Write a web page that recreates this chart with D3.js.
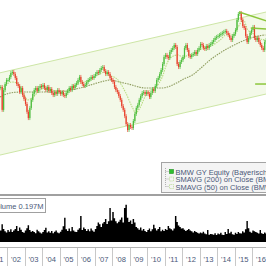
<!DOCTYPE html>
<html>
<head>
<meta charset="utf-8">
<script src="https://cdn.jsdelivr.net/npm/d3@7"></script>
<style>
  html, body { margin: 0; padding: 0; background: #fff; overflow: hidden; }
  svg { display: block; font-family: "Liberation Sans", Arial, sans-serif; }
</style>
</head>
<body>
<div id="chart"></div>
<script>
// monthly closes (EUR), Aug 2001 .. Oct 2016
const closes = [
  35.2, 23.9, 33.4, 37.0, 39.6,
  39.6, 41.7, 44.6, 45.3, 43.8, 41.0, 37.0, 35.8, 32.3, 34.6, 30.7, 28.7,
  26.4, 23.1, 20.8, 24.7, 28.3, 31.3, 33.4, 34.6, 32.9, 34.6, 35.8, 35.2,
  36.4, 34.6, 33.4, 35.2, 32.9, 34.0, 31.8, 30.7, 32.3, 31.3, 33.4, 32.3,
  31.3, 32.3, 30.7, 30.2, 31.8, 32.9, 34.6, 33.4, 35.8, 34.6, 36.4, 37.6,
  39.6, 41.7, 38.3, 37.0, 35.8, 36.4, 38.3, 39.6, 40.3, 41.7, 41.0, 42.4,
  43.8, 45.3, 44.6, 46.9, 48.5, 49.3, 46.1, 43.8, 45.3, 43.8, 41.0, 39.6,
  38.3, 35.2, 33.4, 32.3, 30.2, 28.3, 25.5, 23.9, 21.5, 18.8, 17.0, 18.5,
  17.9, 17.6, 19.8, 22.3, 24.7, 26.0, 28.3, 30.2, 31.8, 32.3, 31.3, 32.3,
  31.3, 29.7, 31.8, 34.0, 32.9, 35.8, 39.6, 41.0, 43.8, 46.9, 51.9, 58.5,
  60.5, 58.5, 57.5, 63.6, 65.8, 68.0, 71.6, 69.2, 51.9, 49.3, 53.7, 55.5,
  58.5, 68.0, 71.6, 65.8, 59.5, 58.5, 60.5, 61.5, 63.6, 61.5, 65.8, 68.0,
  72.8, 71.6, 68.0, 66.9, 70.4, 68.0, 71.6, 72.8, 75.3, 77.9, 80.6, 82.0,
  83.4, 84.8, 86.3, 87.8, 89.3, 90.8, 87.8, 84.8, 80.6, 77.9, 83.4, 86.3,
  92.3, 109.3, 120.9, 123.0, 109.3, 98.7, 95.5, 83.4, 75.3, 80.6, 87.8, 92.3,
  97.1, 80.6, 77.9, 80.6, 75.3, 71.6, 68.0, 65.8, 75.3, 77.9
]

// monthly volume (millions of shares)
const volumes = [
  3.0, 4.6, 3.4, 2.8, 2.5,
  3.1, 2.7, 3.3, 2.6, 3.0, 3.4, 4.2, 2.9, 3.8, 3.2, 2.6, 2.4,
  3.0, 3.6, 4.4, 3.1, 2.7, 2.9, 2.6, 2.3, 3.2, 2.8, 2.5, 2.2,
  2.6, 3.1, 3.7, 2.5, 2.8, 2.4, 2.9, 2.3, 2.7, 3.0, 2.5, 2.3,
  2.7, 3.2, 4.1, 6.3, 3.3, 2.9, 3.5, 2.8, 3.9, 3.0, 2.7, 2.6,
  3.2, 3.6, 6.8, 3.1, 3.8, 3.4, 2.9, 3.3, 2.8, 3.5, 3.0, 2.7,
  3.4, 4.2, 5.1, 4.6, 3.9, 4.8, 5.2, 6.0, 4.7, 5.4, 8.9, 5.6,
  7.8, 6.2, 5.4, 4.9, 5.3, 5.8, 6.4, 5.1, 8.9, 9.7, 6.3, 5.2,
  5.6, 4.7, 6.0, 5.1, 3.9, 3.6, 3.2, 3.8, 3.0, 3.4, 2.9, 2.6,
  3.1, 3.5, 2.8, 3.3, 4.5, 3.6, 3.0, 3.4, 3.9, 2.8, 3.2, 2.9,
  3.4, 3.1, 4.2, 3.6, 3.3, 3.0, 3.5, 6.8, 5.2, 4.3, 3.9, 3.5,
  3.6, 3.2, 2.9, 3.1, 3.4, 3.0, 2.8, 2.5, 2.9, 2.6, 2.4, 2.2,
  2.5, 2.3, 2.7, 2.2, 2.0, 3.1, 1.9, 2.1, 2.0, 1.9, 2.3, 1.8,
  2.2, 2.0, 2.4, 1.9, 1.8, 2.6, 2.1, 3.4, 2.3, 2.7, 2.0, 1.9,
  2.4, 2.1, 2.6, 2.3, 2.2, 2.8, 2.5, 3.3, 5.5, 3.6, 2.7, 2.4,
  3.0, 2.8, 2.6, 2.4, 2.2, 3.1, 2.3, 2.1, 2.5, 2.2
]

const yearLabels = ["'01", "'02", "'03", "'04", "'05", "'06", "'07", "'08",
  "'09", "'10", "'11", "'12", "'13", "'14", "'15", "'16"]

const sma200 = [
  ["2001-08", 29.7], ["2002-03", 31.8], ["2002-10", 32.3], ["2003-07", 32.3],
  ["2004-08", 32.3], ["2006-03", 34.6], ["2006-10", 36.4], ["2007-05", 38.3],
  ["2007-12", 39.6], ["2008-06", 38.3], ["2008-12", 37.0], ["2009-12", 34.6],
  ["2010-11", 34.6], ["2011-05", 35.8], ["2011-09", 37.6], ["2012-02", 40.3],
  ["2012-08", 43.1], ["2013-01", 47.7], ["2013-08", 55.5], ["2014-03", 62.6],
  ["2014-10", 69.2], ["2015-05", 75.3], ["2015-12", 80.6], ["2016-05", 83.4],
  ["2016-10", 84.8]
]

const sma50 = [
  ["2001-08", 33.4], ["2001-12", 36.4], ["2002-04", 38.3], ["2002-08", 37.6],
  ["2002-12", 31.8], ["2003-03", 28.3], ["2003-07", 29.7], ["2003-10", 32.3],
  ["2004-03", 34.6], ["2004-10", 32.9], ["2005-03", 31.8], ["2005-08", 34.6],
  ["2006-03", 37.6], ["2006-10", 39.6], ["2007-03", 43.1], ["2007-08", 45.3],
  ["2007-11", 43.1], ["2008-05", 39.6], ["2008-10", 32.3], ["2009-03", 24.7],
  ["2009-05", 22.7], ["2009-08", 24.7], ["2009-12", 30.7], ["2010-03", 33.4],
  ["2010-07", 35.2], ["2010-11", 41.0], ["2011-03", 53.7], ["2011-07", 59.5],
  ["2011-10", 60.5], ["2012-02", 57.5], ["2012-05", 60.5], ["2012-10", 60.5],
  ["2013-01", 65.8], ["2013-06", 69.2], ["2013-10", 71.6], ["2014-03", 77.9],
  ["2014-07", 84.8], ["2014-12", 84.8], ["2015-03", 95.5], ["2015-07", 109.3],
  ["2015-10", 92.3], ["2016-01", 87.8], ["2016-05", 80.6], ["2016-10", 77.9]
]

// trend channel and drawn trend lines
const channelTop = [["2001-01", 43.0], ["2017-01", 126.8]]
const channelBottom = [["2001-01", 10.7], ["2017-01", 31.7]]
const trendLines = [
  [["2015-04", 125.1], ["2016-11", 107.5]],
  [["2015-12", 95.5], ["2016-11", 93.9]],
  [["2016-03", 37.0], ["2016-11", 37.0]]
]

const legendItems = [
  "BMW GY Equity (Bayerische Motoren Werke AG)",
  "SMAVG (200)  on Close (BMW GY)",
  "SMAVG (50)  on Close (BMW GY)"
]
const volumeLabel = "Volume 0.197M"

const W = 266, H = 266
const textColor = '#4a5878'
const parseMonth = d3.timeParse('%Y-%m')

const months = d3.timeMonth.range(new Date(2001, 7, 1), new Date(2016, 10, 1))

const x = d3.scaleTime()
  .domain([new Date(2001, 0, 1), new Date(2017, 0, 1)])
  .range([-10.2, 269.8])
const y = d3.scaleLog().domain([5.86, 153.2]).range([193, 0])
const yVol = d3.scaleLinear().domain([0, 12]).range([242, 196])

const svg = d3.select('#chart').append('svg')
  .attr('width', W).attr('height', H)

svg.append('rect').attr('width', W).attr('height', H).attr('fill', '#fff')

svg.append('clipPath').attr('id', 'priceClip')
  .append('rect').attr('x', 0).attr('y', 0).attr('width', W).attr('height', 194)

const price = svg.append('g').attr('clip-path', 'url(#priceClip)')

// channel
const chArea = d3.area()
  .x(d => x(parseMonth(d[0])))
  .y0((d, i) => y(channelBottom[i][1]))
  .y1(d => y(d[1]))
price.append('path').datum(channelTop)
  .attr('d', chArea).attr('fill', '#f3f9e8')
const straight = d3.line().x(d => x(parseMonth(d[0]))).y(d => y(d[1]))
for (let edge of [channelTop, channelBottom]) {
  price.append('path').datum(edge)
    .attr('d', straight).attr('fill', 'none')
    .attr('stroke', '#cde6a6').attr('stroke-width', 1)
}

// moving averages
const smooth = d3.line()
  .x(d => x(parseMonth(d[0])))
  .y(d => y(d[1]))
  .curve(d3.curveMonotoneX)
price.append('path').datum(sma200)
  .attr('d', smooth).attr('fill', 'none')
  .attr('stroke', '#8e9c5e').attr('stroke-width', 1.1)
  .attr('stroke-dasharray', '1.5,1')
price.append('path').datum(sma50)
  .attr('d', smooth).attr('fill', 'none')
  .attr('stroke', '#b9dc82').attr('stroke-width', 1.1)
  .attr('stroke-dasharray', '1.5,1')

// candles, open = previous close
const candles = months.map((m, i) => ({
  date: m,
  open: i === 0 ? closes[0] : closes[i - 1],
  close: closes[i]
}))
const monthW = x(new Date(2001, 8, 1)) - x(new Date(2001, 7, 1))
const cx = d => x(d.date) + monthW / 2
const gc = price.append('g')
gc.selectAll('line.wick')
  .data(candles)
  .enter()
  .append('line')
  .classed('wick', true)
  .attr('x1', cx).attr('x2', cx)
  .attr('y1', d => Math.min(y(d.open), y(d.close)) - 2)
  .attr('y2', d => Math.max(y(d.open), y(d.close)) + 2)
  .attr('stroke', d => d.close >= d.open ? '#4cbd3c' : '#e8402c')
  .attr('stroke-width', 0.7)
gc.selectAll('rect.body')
  .data(candles)
  .enter()
  .append('rect')
  .classed('body', true)
  .attr('x', d => cx(d) - 0.6)
  .attr('width', 1.2)
  .attr('y', d => Math.min(y(d.open), y(d.close)))
  .attr('height', d => Math.max(1, Math.abs(y(d.open) - y(d.close))))
  .attr('fill', d => d.close >= d.open ? '#4cbd3c' : '#e8402c')

// trend lines
for (let tl of trendLines) {
  price.append('path').datum(tl)
    .attr('d', straight).attr('fill', 'none')
    .attr('stroke', '#8cc63c').attr('stroke-width', 1.5)
}

// legend
const lg = svg.append('g')
lg.append('rect')
  .attr('x', 161.5).attr('y', 162.5).attr('width', 120).attr('height', 30)
  .attr('fill', '#f4f4f4').attr('stroke', '#a4a4a4')
lg.append('path')
  .attr('d', 'M165.5,168V186.5M165.5,171.5H169M165.5,179H169M165.5,186.5H169')
  .attr('fill', 'none').attr('stroke', '#b0b0b0').attr('stroke-dasharray', '1,1')
legendItems.forEach((t, i) => {
  const ly = 169 + i * 7.5
  if (i === 0) {
    lg.append('rect').attr('x', 169.5).attr('y', ly + 0.5).attr('width', 4).attr('height', 4)
      .attr('fill', '#2fc02f').attr('stroke', '#1f8f1f').attr('stroke-width', 0.6)
  } else {
    lg.append('rect').attr('x', 169.5).attr('y', ly + 0.5).attr('width', 4).attr('height', 4)
      .attr('fill', 'none').attr('stroke', '#b4d888').attr('stroke-width', 0.8)
      .attr('stroke-dasharray', '1,0.8')
  }
  lg.append('text')
    .attr('x', 175.5).attr('y', ly + 5.5)
    .attr('font-size', 7.5).attr('fill', textColor)
    .text(t)
})

// volume panel
svg.append('line')
  .attr('x1', 0).attr('x2', W).attr('y1', 195).attr('y2', 195)
  .attr('stroke', '#808080').attr('stroke-width', 1.5)
const volArea = d3.area()
  .x(d => x(d))
  .y0(yVol(0))
  .y1((d, i) => yVol(volumes[Math.min(i, volumes.length - 1)]))
  .curve(d3.curveStepAfter)
svg.append('path')
  .datum(months.concat([d3.timeMonth.offset(months[months.length - 1], 1)]))
  .attr('d', volArea)
  .attr('fill', '#000')

svg.append('rect')
  .attr('x', -1.5).attr('y', 198.5).attr('width', 47).attr('height', 14)
  .attr('fill', '#fff').attr('stroke', '#a0a0a0')
svg.append('text')
  .attr('x', 43.5).attr('y', 208.8)
  .attr('text-anchor', 'end')
  .attr('font-size', 7.5).attr('fill', textColor)
  .text(volumeLabel)

// time axis
svg.append('line')
  .attr('x1', 0).attr('x2', W).attr('y1', 247.5).attr('y2', 247.5)
  .attr('stroke', '#b4b4b4')
const years = yearLabels.map((l, i) => 2001 + i)
svg.append('g').selectAll('line')
  .data(years.slice(1))
  .enter()
  .append('line')
  .attr('x1', d => Math.round(x(new Date(d, 0, 1))) + 0.5)
  .attr('x2', d => Math.round(x(new Date(d, 0, 1))) + 0.5)
  .attr('y1', 248).attr('y2', H)
  .attr('stroke', '#c8c8c8')
svg.append('g').selectAll('text')
  .data(years)
  .enter()
  .append('text')
  .attr('x', d => (x(new Date(d, 0, 1)) + x(new Date(d + 1, 0, 1))) / 2)
  .attr('y', 262)
  .attr('text-anchor', 'middle')
  .attr('font-size', 7.6).attr('fill', textColor)
  .text((d, i) => yearLabels[i])
</script>
</body>
</html>
